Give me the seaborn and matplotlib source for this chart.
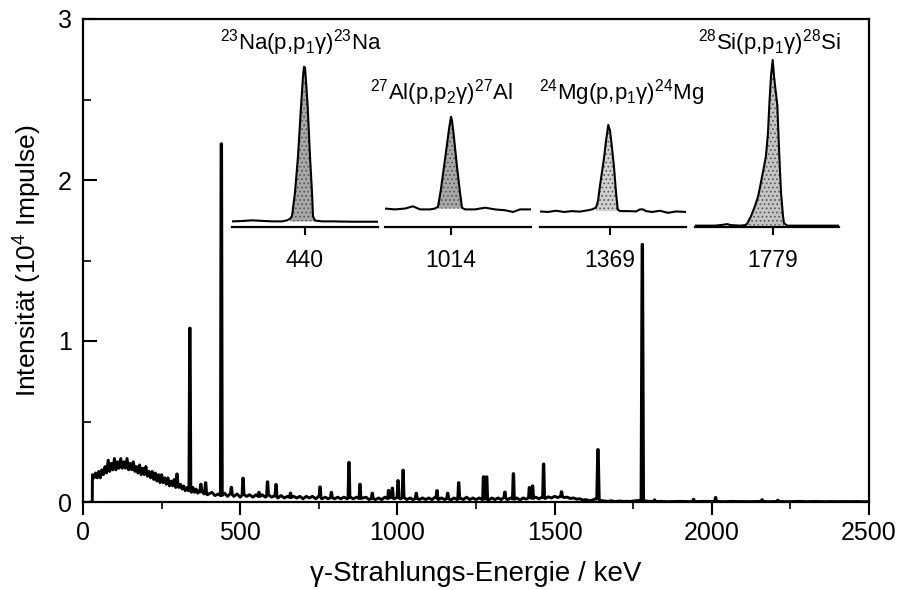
import numpy as np
import pandas as pd
import matplotlib
matplotlib.use("Agg")
import matplotlib.pyplot as plt
import seaborn as sns

# ---------------- data ----------------
# background continuum, 5 keV grid from 30 to 395 keV (units 10^4 counts)
bg_low_start, bg_low_step = 30, 5
bg_low = [0.17, 0.15, 0.18, 0.15, 0.19, 0.15, 0.20, 0.17, 0.22, 0.18,
          0.26, 0.19, 0.24, 0.20, 0.27, 0.20, 0.25, 0.21, 0.27, 0.21,
          0.25, 0.21, 0.27, 0.20, 0.24, 0.20, 0.25, 0.19, 0.22, 0.18,
          0.23, 0.17, 0.21, 0.17, 0.22, 0.16, 0.19, 0.15, 0.19, 0.14,
          0.18, 0.13, 0.17, 0.12, 0.17, 0.12, 0.15, 0.11, 0.15, 0.10,
          0.13, 0.10, 0.14, 0.09, 0.12, 0.09, 0.11, 0.08, 0.10, 0.07,
          0.09, 0.07, 0.08, 0.06, 0.09, 0.06, 0.08, 0.055, 0.07, 0.05,
          0.07, 0.05, 0.06, 0.045]
# background, 10 keV grid from 400 to 1800 keV
bg_mid_start, bg_mid_step = 400, 10
bg_mid = [0.05, 0.06, 0.04, 0.05, 0.035, 0.055, 0.035, 0.055, 0.035, 0.05,
          0.03, 0.05, 0.035, 0.045, 0.03, 0.045, 0.03, 0.045, 0.03, 0.045,
          0.03, 0.04, 0.025, 0.04, 0.025, 0.035, 0.025, 0.035, 0.025, 0.035,
          0.02, 0.035, 0.025, 0.035, 0.02, 0.035, 0.02, 0.03, 0.02, 0.03,
          0.02, 0.03, 0.02, 0.03, 0.02, 0.03, 0.02, 0.03, 0.02, 0.025,
          0.03, 0.015, 0.025, 0.015, 0.025, 0.015, 0.03, 0.02, 0.03, 0.02,
          0.03, 0.02, 0.03, 0.015, 0.025, 0.015, 0.025, 0.015, 0.025, 0.015,
          0.025, 0.015, 0.03, 0.015, 0.025, 0.015, 0.025, 0.012, 0.025, 0.015,
          0.025, 0.015, 0.03, 0.015, 0.025, 0.015, 0.025, 0.015, 0.02, 0.012,
          0.025, 0.015, 0.025, 0.015, 0.03, 0.015, 0.025, 0.015, 0.025, 0.012,
          0.025, 0.018, 0.03, 0.02, 0.03, 0.02, 0.03, 0.022, 0.032, 0.025,
          0.035, 0.028, 0.035, 0.028, 0.03, 0.022, 0.025, 0.018, 0.02, 0.012,
          0.015, 0.008, 0.012, 0.02, 0.015, 0.008, 0.006, 0.004, 0.008, 0.003,
          0.005, 0.006, 0.003, 0.005, 0.003, 0.006, 0.008, 0.01, 0.01, 0.006,
          0.004]
# background, 20 keV grid from 1820 to 2500 keV
bg_high_start, bg_high_step = 1820, 20
bg_high = [0.003, 0.004, 0.002, 0.003, 0.004, 0.003, 0.002, 0.003, 0.004, 0.003,
           0.003, 0.002, 0.004, 0.003, 0.003, 0.002, 0.003, 0.004, 0.002, 0.003,
           0.003, 0.002, 0.003, 0.004, 0.002, 0.003, 0.003, 0.002, 0.003, 0.002,
           0.003, 0.002, 0.003, 0.002, 0.002]

# gamma lines: energy (keV), net height (10^4 counts), half base width (keV)
peak_energy = [299, 340, 375, 390, 440, 472, 509, 560, 587, 614, 660, 754, 790,
               846, 881, 920, 972, 984, 1002, 1018, 1060, 1126, 1160, 1195,
               1274, 1284, 1342, 1369, 1420, 1430, 1465, 1522, 1638, 1779,
               1818, 1942, 2012, 2160, 2210]
peak_height = [0.06, 1.00, 0.06, 0.06, 2.19, 0.04, 0.10, 0.03, 0.085, 0.075, 0.03,
               0.065, 0.03, 0.22, 0.09, 0.03, 0.05, 0.06, 0.105, 0.17, 0.03, 0.05,
               0.03, 0.10, 0.14, 0.14, 0.035, 0.16, 0.06, 0.08, 0.21, 0.03, 0.31,
               1.59, 0.01, 0.015, 0.025, 0.01, 0.008]
peak_halfwidth = [3] * 32 + [4, 4] + [3] * 5

# inset profiles (channel offset within inset, relative height)
inset_titles = [r"$^{23}$Na(p,p$_1$γ)$^{23}$Na", r"$^{27}$Al(p,p$_2$γ)$^{27}$Al",
                r"$^{24}$Mg(p,p$_1$γ)$^{24}$Mg", r"$^{28}$Si(p,p$_1$γ)$^{28}$Si"]
inset_tick_labels = ["440", "1014", "1369", "1779"]
inset_tick_pos = [73, 66, 70, 77.7]

na_x = [0, 10, 20, 30, 40, 50, 55, 58, 60, 63, 66, 69, 71, 72, 73, 74, 75.7, 78, 80, 81, 83, 90, 100, 120, 146]
na_y = [0.03, 0.032, 0.036, 0.033, 0.03, 0.03, 0.036, 0.045, 0.06, 0.2, 0.41, 0.7, 0.88, 0.934, 0.93,
        0.85, 0.7, 0.41, 0.2, 0.06, 0.035, 0.03, 0.03, 0.028, 0.028]
al_x = [0, 10, 20, 28, 35, 45, 50, 53, 56, 59, 62, 64, 66, 67, 69, 72, 75, 77, 80, 90, 100, 110,
        120, 128, 135, 146]
al_y = [0.105, 0.1, 0.105, 0.118, 0.1, 0.1, 0.105, 0.115, 0.22, 0.35, 0.48, 0.57, 0.642, 0.62,
        0.52, 0.35, 0.2, 0.11, 0.1, 0.1, 0.11, 0.1, 0.095, 0.085, 0.1, 0.1]
mg_x = [0, 8, 16, 24, 32, 40, 48, 52, 56, 58, 60, 62.7, 64, 66, 68.3, 70, 72, 74, 76, 77.7, 80, 88,
        96, 100, 103, 106, 112, 120, 128, 136, 146]
mg_y = [0.088, 0.085, 0.092, 0.085, 0.09, 0.087, 0.095, 0.1, 0.11, 0.15, 0.24, 0.347, 0.4, 0.5,
        0.594, 0.56, 0.46, 0.347, 0.2, 0.1, 0.09, 0.09, 0.088, 0.1, 0.1, 0.09, 0.085, 0.092, 0.08,
        0.088, 0.085]
si_x = [0, 20, 28, 32, 36, 45, 50, 52, 56, 60, 63.3, 66, 69, 71, 73, 74.3, 76, 77.7, 79, 80.5,
        82.3, 84.3, 86, 88, 89, 92, 110, 130, 144]
si_y = [0.005, 0.005, 0.01, 0.014, 0.008, 0.005, 0.008, 0.015, 0.06, 0.12, 0.18, 0.26, 0.35,
        0.415, 0.55, 0.71, 0.88, 0.974, 0.88, 0.8, 0.71, 0.415, 0.2, 0.06, 0.02, 0.005, 0.005,
        0.005, 0.005]
inset_fill_range = [(58, 83), (53, 77), (56, 77.7), (50, 89)]
inset_base = [0.03, 0.105, 0.09, 0.005]

# ---------------- build spectrum table ----------------
bg_e = np.concatenate([
    bg_low_start + bg_low_step * np.arange(len(bg_low)),
    bg_mid_start + bg_mid_step * np.arange(len(bg_mid)),
    bg_high_start + bg_high_step * np.arange(len(bg_high)),
]).astype(float)
bg_c = np.concatenate([bg_low, bg_mid, bg_high]).astype(float)

keep = np.ones_like(bg_e, dtype=bool)
for e, w in zip(peak_energy, peak_halfwidth):
    keep &= ~((bg_e > e - w) & (bg_e < e + w))
xs = list(bg_e[keep])
ys = list(bg_c[keep])
for e, h, w in zip(peak_energy, peak_height, peak_halfwidth):
    b0 = np.interp(e - w, bg_e, bg_c)
    b1 = np.interp(e + w, bg_e, bg_c)
    bm = np.interp(e, bg_e, bg_c)
    xs += [e - w, e - 0.8, e + 0.8, e + w]
    ys += [b0, bm + h, bm + h, b1]
# leading edge of the spectrum
xs += [22, 29.5]
ys += [0.0, 0.0]
order = np.argsort(xs, kind="stable")
spec = pd.DataFrame({"E": np.array(xs)[order], "I": np.array(ys)[order]})

# ---------------- plotting ----------------
sns.set_style("ticks")
plt.rcParams["font.family"] = ["Liberation Sans", "DejaVu Sans"]
plt.rcParams["mathtext.fontset"] = "custom"
plt.rcParams["mathtext.rm"] = "Liberation Sans"
plt.rcParams["mathtext.it"] = "Liberation Sans:italic"
plt.rcParams["mathtext.default"] = "regular"
plt.rcParams["hatch.linewidth"] = 0.7
plt.rcParams["hatch.color"] = "#444444"
for k in ["text.color", "axes.labelcolor", "xtick.color", "ytick.color", "axes.edgecolor"]:
    plt.rcParams[k] = "black"

W, H = 901, 590
fig = plt.figure(figsize=(W / 100, H / 100), dpi=100)
ax = fig.add_axes([83 / W, 1 - 502 / H, 786 / W, 483 / H])
sns.lineplot(data=spec, x="E", y="I", ax=ax, color="black", lw=2.1,
             estimator=None, sort=False, errorbar=None)
ax.set_xlim(0, 2500)
ax.set_ylim(0, 3)
ax.set_xticks([0, 500, 1000, 1500, 2000, 2500])
ax.set_xticks([250, 750, 1250, 1750, 2250], minor=True)
ax.set_yticks([0, 1, 2, 3])
ax.set_yticks([0.5, 1.5, 2.5], minor=True)
for s in ax.spines.values():
    s.set_linewidth(1.6)
    s.set_visible(True)
    s.set_color("black")
ax.tick_params(axis="x", which="major", direction="out", length=9, width=1.5,
               labelsize=18, pad=5)
ax.tick_params(axis="x", which="minor", direction="out", length=5, width=1.2)
ax.tick_params(axis="y", which="major", direction="in", length=10, width=1.5,
               labelsize=18, pad=8)
ax.tick_params(axis="y", which="minor", direction="in", length=6, width=1.2)
ax.set_xlabel("γ-Strahlungs-Energie / keV", fontsize=20, labelpad=11)
ax.set_ylabel("Intensität (10$^4$ Impulse)", fontsize=19, labelpad=10)

# insets
inset_px = [(232, 146), (385, 146), (540, 146), (695, 144)]
profiles = [(na_x, na_y), (al_x, al_y), (mg_x, mg_y), (si_x, si_y)]
faces = ["#a8a8a8", "#a8a8a8", "#d0d0d0", "#c4c4c4"]
title_pos = [(301, 50), (441, 100), (621, 100), (769, 50)]
base_px = 226.5
for i in range(4):
    left, width = inset_px[i]
    iax = fig.add_axes([left / W, 1 - base_px / H, width / W, 171 / H])
    iax.set_facecolor("none")
    px, py = np.array(profiles[i][0], float), np.array(profiles[i][1], float)
    lo, hi = inset_fill_range[i]
    m = (px >= lo) & (px <= hi)
    iax.fill_between(px[m], py[m], inset_base[i], facecolor=faces[i],
                     edgecolor="#555555", hatch="....", linewidth=0)
    sns.lineplot(x=px, y=py, ax=iax, color="black", lw=1.5,
                 estimator=None, sort=False, errorbar=None)
    iax.set_xlim(0, width)
    iax.set_ylim(0, 1)
    for k in ["top", "left", "right"]:
        iax.spines[k].set_visible(False)
    iax.spines["bottom"].set_linewidth(1.6)
    iax.spines["bottom"].set_color("black")
    iax.set_yticks([])
    iax.set_xticks([inset_tick_pos[i]])
    iax.set_xticklabels([inset_tick_labels[i]])
    iax.tick_params(axis="x", direction="out", length=6, width=1.5,
                    labelsize=16.5, pad=10)
    iax.set_xlabel("")
    iax.set_ylabel("")
    tx, ty = title_pos[i]
    fig.text(tx / W, 1 - ty / H, inset_titles[i], fontsize=16, ha="center",
             va="baseline")

fig.savefig("out.png", dpi=100)
